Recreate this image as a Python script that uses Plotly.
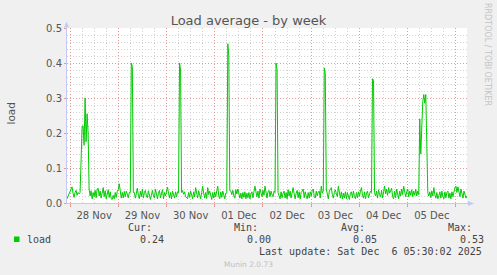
import pandas as pd
import plotly.graph_objects as go

# ---------------- data ----------------
start_time = "2025-11-27 22:30"
end_time = "2025-12-06 05:30"
step = "30min"

load_values = [
    # Nov 27 22:30 ..
    0.012, 0.02, 0.025, 0.03, 0.04, 0.046, 0.028, 0.016, 0.03, 0.036, 0.022, 0.03, 0.026,
    0.03, 0.12, 0.22, 0.22, 0.165, 0.30, 0.175, 0.255, 0.20, 0.04, 0.02,
    0.035, 0.012, 0.03, 0.018, 0.036, 0.015, 0.04, 0.042, 0.02, 0.034,
    0.014, 0.032, 0.044, 0.018, 0.035, 0.012, 0.028, 0.038, 0.016, 0.032,
    0.012, 0.01, 0.022, 0.012, 0.03, 0.016, 0.034, 0.038,
    0.055,
    0.028, 0.014, 0.03, 0.015, 0.033, 0.018, 0.034, 0.02, 0.015, 0.03,
    0.03, 0.40, 0.39, 0.03,
    0.03, 0.014, 0.035, 0.042, 0.022, 0.012, 0.034, 0.018, 0.04, 0.014,
    0.03, 0.036, 0.02, 0.015, 0.035, 0.026, 0.01, 0.022, 0.036, 0.02,
    0.014, 0.04, 0.026, 0.012, 0.028, 0.036, 0.015, 0.025, 0.038, 0.012,
    0.03, 0.02, 0.038, 0.045, 0.028, 0.014, 0.03, 0.012, 0.034, 0.02,
    0.014, 0.032, 0.018, 0.032,
    0.03, 0.40, 0.38, 0.03,
    0.036, 0.025, 0.032, 0.018, 0.014, 0.012, 0.03, 0.016, 0.034, 0.02,
    0.012, 0.032, 0.018, 0.044, 0.022, 0.014, 0.035, 0.02, 0.012, 0.03,
    0.048, 0.028, 0.014, 0.03, 0.013, 0.044, 0.024, 0.034, 0.015, 0.01,
    0.03, 0.014, 0.032, 0.018, 0.035, 0.048, 0.02, 0.012, 0.032, 0.016,
    0.034, 0.022, 0.012, 0.028,
    0.03, 0.455, 0.42, 0.035,
    0.034, 0.024, 0.036, 0.02, 0.014, 0.038, 0.026, 0.04, 0.022, 0.014,
    0.028, 0.012, 0.03, 0.016, 0.032, 0.012, 0.028, 0.015, 0.03, 0.012,
    0.026, 0.032, 0.015, 0.034, 0.048, 0.032, 0.018, 0.034, 0.014, 0.04,
    0.024, 0.018, 0.036, 0.022, 0.048, 0.028, 0.014, 0.032, 0.036, 0.018,
    0.034, 0.024, 0.018, 0.034,
    0.03, 0.40, 0.38, 0.03,
    0.022, 0.012, 0.032, 0.015, 0.028, 0.034, 0.014, 0.03, 0.012, 0.038,
    0.02, 0.034, 0.014, 0.032, 0.044, 0.026, 0.012, 0.028, 0.036, 0.015,
    0.032, 0.012, 0.03, 0.034, 0.04, 0.015, 0.032, 0.02, 0.012, 0.03,
    0.014, 0.032, 0.02, 0.035, 0.04, 0.018, 0.014, 0.034, 0.02, 0.032,
    0.034, 0.014, 0.048, 0.028,
    0.035, 0.386, 0.37, 0.04,
    0.02, 0.012, 0.034, 0.038, 0.044, 0.024, 0.014, 0.03, 0.038, 0.026,
    0.018, 0.048, 0.028, 0.014, 0.032, 0.012, 0.028, 0.014, 0.032, 0.012,
    0.03, 0.016, 0.01, 0.028, 0.032, 0.015, 0.034, 0.018, 0.012, 0.03,
    0.015, 0.032, 0.02, 0.034, 0.044, 0.022, 0.014, 0.032, 0.012, 0.028,
    0.034, 0.015, 0.03, 0.034,
    0.03, 0.355, 0.35, 0.03,
    0.02, 0.034, 0.014, 0.038, 0.024, 0.018, 0.036, 0.014, 0.032, 0.048,
    0.026, 0.04, 0.022, 0.044, 0.028, 0.034, 0.042, 0.018, 0.012, 0.034,
    0.015, 0.04, 0.02, 0.012, 0.034, 0.02, 0.04, 0.024, 0.048, 0.026,
    0.018, 0.032, 0.04, 0.018, 0.034, 0.022, 0.038, 0.018, 0.034, 0.022,
    0.04, 0.02, 0.034, 0.024,
    0.24, 0.14, 0.23, 0.29, 0.31, 0.285, 0.31, 0.20, 0.03,
    0.02, 0.032, 0.015, 0.034, 0.02, 0.044, 0.024, 0.014, 0.03, 0.012,
    0.02, 0.032, 0.014, 0.034, 0.018, 0.012, 0.032, 0.015, 0.03, 0.034,
    0.014, 0.028, 0.012, 0.032, 0.018, 0.034, 0.044, 0.048, 0.03, 0.046,
    0.024, 0.018, 0.04, 0.022, 0.014, 0.034, 0.02, 0.014, 0.02,
]

times = pd.date_range(start_time, end_time, freq=step)

title_text = "Load average - by week"
y_label = "load"
series_name = "load"
stat_labels = ["Cur:", "Min:", "Avg:", "Max:"]
stat_values = ["0.24", "0.00", "0.05", "0.53"]
last_update = "Last update: Sat Dec\u00a0\u00a06 05:30:02 2025"
side_text = "RRDTOOL / TOBI OETIKER"
footer_text = "Munin 2.0.73"

# ---------------- layout helpers ----------------
W, H = 497, 275
PL, PR, PT, PB = 67, 467, 28, 203


def px(x):
    return (x - PL) / (PR - PL)


def py(y):
    return (PB - y) / (PB - PT)


GREEN = "#00cc00"
MAJOR = "#e39a9a"
MINOR = "#d2d2d2"
AXIS = "#c4c8f4"
TXT = "#555555"
LEG = "#444444"
MONO = "DejaVu Sans Mono"

fig = go.Figure()
fig.add_trace(go.Scatter(x=times, y=load_values, mode="lines",
                         line=dict(color=GREEN, width=1), name=series_name,
                         showlegend=False, hoverinfo="skip"))

fig.update_layout(
    width=W, height=H,
    margin=dict(l=PL, r=W - PR, t=PT, b=H - PB, pad=0),
    paper_bgcolor="#f0f0f0",
    plot_bgcolor="#ffffff",
    font=dict(family="DejaVu Sans", size=10, color=TXT),
    title=dict(text=title_text, x=0.5, xref="container", xanchor="center",
               y=1 - 20 / H, yref="container", yanchor="middle",
               font=dict(size=13, color="#555555")),
    showlegend=False,
)

fig.update_xaxes(
    type="date",
    range=[start_time, end_time],
    tick0="2025-11-28", dtick=86400000,
    tickformat="%d %b", ticklabelmode="period",
    showgrid=True, gridcolor=MAJOR, gridwidth=1, griddash="1px,2px",
    ticks="outside", ticklen=3, tickcolor=MAJOR, tickwidth=1,
    minor=dict(dtick=6 * 3600000, showgrid=True, gridcolor=MINOR,
               griddash="1px,2px", gridwidth=1),
    showline=True, linecolor=AXIS, linewidth=1,
    zeroline=False,
    tickfont=dict(size=10, color=TXT),
)
fig.update_yaxes(
    range=[0, 0.5], dtick=0.1, tick0=0, tickformat=".1f",
    showgrid=True, gridcolor=MAJOR, gridwidth=1, griddash="1px,2px",
    ticks="outside", ticklen=2, tickcolor=MAJOR,
    minor=dict(dtick=0.02, showgrid=True, gridcolor=MINOR,
               griddash="1px,2px", gridwidth=1),
    showline=True, linecolor=AXIS, linewidth=1,
    zeroline=False,
    tickfont=dict(size=10, color=TXT),
)

ann = []
# y axis label
ann.append(dict(text=y_label, x=px(10.5), y=py(114), xref="paper", yref="paper",
                showarrow=False, textangle=-90, xanchor="center", yanchor="middle",
                font=dict(size=10.5, color=TXT)))
# side vertical text
ann.append(dict(text=side_text, x=px(488), y=py(54), xref="paper", yref="paper",
                showarrow=False, textangle=90, xanchor="center", yanchor="middle",
                font=dict(size=8, color="#c4c4c4")))
# footer
ann.append(dict(text=footer_text, x=px(248), y=py(264), xref="paper", yref="paper",
                showarrow=False, xanchor="center", yanchor="middle",
                font=dict(size=7.5, color="#c0c0c0")))
# legend row
ann.append(dict(text=series_name, x=px(25.5), y=py(239.5), xref="paper", yref="paper",
                showarrow=False, xanchor="left", yanchor="middle", borderpad=0,
                font=dict(family=MONO, size=10, color=LEG)))
label_lefts = [127.2, 233.0, 339.8, 446.5]
value_lefts = [139.1, 245.9, 352.3, 458.7]
for lab, lx in zip(stat_labels, label_lefts):
    ann.append(dict(text=lab, x=px(lx), y=py(227.7), xref="paper", yref="paper",
                    showarrow=False, xanchor="left", yanchor="middle", borderpad=0,
                    font=dict(family=MONO, size=10, color=LEG)))
for val, vx in zip(stat_values, value_lefts):
    ann.append(dict(text=val, x=px(vx), y=py(239.5), xref="paper", yref="paper",
                    showarrow=False, xanchor="left", yanchor="middle", borderpad=0,
                    font=dict(family=MONO, size=10, color=LEG)))
ann.append(dict(text=last_update, x=px(482.9), y=py(251), xref="paper", yref="paper",
                showarrow=False, xanchor="right", yanchor="middle", borderpad=0,
                font=dict(family=MONO, size=10, color=LEG)))
fig.update_layout(annotations=ann)

shapes = []
# legend colour box
shapes.append(dict(type="rect", xref="paper", yref="paper",
                   x0=px(14), x1=px(19.5), y0=py(242), y1=py(236.5),
                   fillcolor=GREEN, line=dict(width=0)))
# axis arrow heads
shapes.append(dict(type="path", xref="paper", yref="paper",
                   path=f"M {px(64):.5f},{py(27.5):.5f} L {px(69):.5f},{py(27.5):.5f} L {px(66.5):.5f},{py(21.5):.5f} Z",
                   fillcolor=AXIS, line=dict(width=0)))
shapes.append(dict(type="line", xref="paper", yref="paper",
                   x0=px(66.5), x1=px(66.5), y0=1, y1=py(27.5),
                   line=dict(color=AXIS, width=1)))
shapes.append(dict(type="path", xref="paper", yref="paper",
                   path=f"M {px(468):.5f},{py(201):.5f} L {px(468):.5f},{py(206):.5f} L {px(474):.5f},{py(203.5):.5f} Z",
                   fillcolor=AXIS, line=dict(width=0)))
shapes.append(dict(type="line", xref="paper", yref="paper",
                   x0=1, x1=px(468), y0=py(203.5), y1=py(203.5),
                   line=dict(color=AXIS, width=1)))
fig.update_layout(shapes=shapes)

fig.write_html("out.html", config={"displayModeBar": False})
